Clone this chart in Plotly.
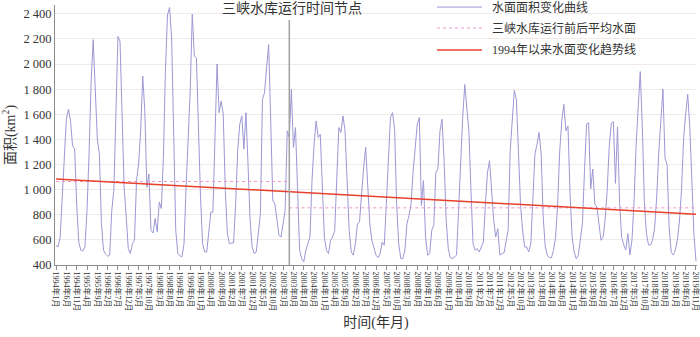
"""
Three Gorges area time series - monthly water surface area, 1994-2019
"""
import plotly.graph_objects as go

# monthly water surface area (km2), starting 1994-01
START_YEAR, START_MONTH = 1994, 1
area = [
    557, 544, 623, 940, 1310, 1560, 1640, 1550, 1350, 1323, 887, 583,
    517, 512, 544, 834, 1283, 1864, 2194, 1785, 1402, 1283, 729, 517,
    486, 470, 478, 834, 993, 1600, 2220, 2181, 1574, 1019, 782, 531,
    491, 570, 597, 1072, 1204, 1468, 1904, 1626, 1019, 1125, 676, 655,
    769, 665, 901, 850, 1250, 1950, 2392, 2450, 2207, 1415, 676, 491,
    473, 465, 570, 1019, 1415, 1785, 2397, 2062, 2049, 1415, 940, 570,
    504, 504, 676, 821, 821, 1362, 2001, 1613, 1705, 1600, 993, 649,
    570, 575, 575, 887, 1309, 1521, 1587, 1323, 1613, 1204, 755, 544,
    491, 504, 676, 808, 1719, 1771, 1969, 2154, 1547, 914, 887, 755,
    636, 623, 729, 834, 1468, 1415, 1798, 1336, 1494, 993, 517, 451,
    425, 517, 570, 623, 1072, 1362, 1547, 1415, 1441, 993, 623, 517,
    491, 597, 623, 676, 1151, 1494, 1455, 1587, 1468, 1019, 676, 504,
    478, 570, 729, 742, 993, 1177, 1336, 993, 729, 597, 531, 478,
    459, 491, 583, 557, 887, 1283, 1574, 1613, 1481, 887, 570, 451,
    451, 517, 729, 795, 887, 1151, 1309, 1521, 1574, 874, 1072, 623,
    478, 491, 676, 715, 1138, 1164, 1468, 1560, 1230, 755, 531, 459,
    451, 465, 478, 834, 1283, 1574, 1837, 1626, 1468, 993, 570, 517,
    531, 504, 544, 583, 887, 1138, 1230, 1000, 760, 623, 689, 478,
    491, 496, 597, 676, 1309, 1600, 1790, 1719, 1283, 887, 676, 544,
    544, 504, 570, 940, 1283, 1362, 1455, 1283, 782, 544, 478, 459,
    459, 517, 623, 887, 1309, 1547, 1679, 1468, 1507, 966, 623, 504,
    451, 478, 623, 729, 1151, 1521, 1534, 1006, 1164, 887, 861, 729,
    597, 623, 760, 1000, 1350, 1530, 1540, 1050, 1500, 900, 620, 560,
    520, 650, 480, 600, 900, 1350, 1650, 1940, 1500, 900, 650, 560,
    560, 600, 700, 950, 1300, 1600, 1800, 1250, 1200, 700, 500, 480,
    520, 600, 750, 1000, 1400, 1600, 1760, 1500, 1000, 650, 430,
]

# mean water surface before / after the dam started operating
dam_month = '2003年6月'
mean_before = 1065
mean_after = 855
dam_line_top = 2350

# linear trend since 1994 (start / end values)
trend_ends = [1085, 805]

y_ticks = [400, 600, 800, 1000, 1200, 1400, 1600, 1800, 2000, 2200, 2400]
TICK_STEP = 5

FONT = 'Liberation Serif, Noto Sans CJK SC, serif'
COLORS = {
    'area': '#9c98d4',
    'mean': '#ec96cf',
    'trend': '#e8402a',
    'dam': '#a0a0a0',
    'axis': '#8c8c8c',
    'grid': 'rgba(232,214,214,0.55)',
    'text': '#333333',
}

months = []
yr, mo = START_YEAR, START_MONTH
for _ in area:
    months.append(f'{yr}年{mo}月')
    mo += 1
    if mo > 12:
        yr, mo = yr + 1, 1
dam_idx = months.index(dam_month)

fig = go.Figure()

fig.add_trace(go.Scatter(
    x=months, y=area, mode='lines', name='水面面积变化曲线',
    line=dict(color=COLORS['area'], width=1)
))

fig.add_trace(go.Scatter(
    x=months[:dam_idx + 1], y=[mean_before] * (dam_idx + 1),
    mode='lines', name='三峡水库运行前后平均水面',
    line=dict(color=COLORS['mean'], width=1, dash='dot')
))
fig.add_trace(go.Scatter(
    x=months[dam_idx:], y=[mean_after] * (len(months) - dam_idx),
    mode='lines', name='三峡水库运行前后平均水面',
    line=dict(color=COLORS['mean'], width=1, dash='dot')
))

fig.add_trace(go.Scatter(
    x=[months[0], months[-1]], y=trend_ends, mode='lines',
    name='1994年以来水面变化趋势线',
    line=dict(color=COLORS['trend'], width=1.5)
))

# operation time node (vertical marker)
fig.add_trace(go.Scatter(
    x=[dam_month, dam_month], y=[y_ticks[0], dam_line_top],
    mode='lines', line=dict(color=COLORS['dam'], width=1.5),
    hoverinfo='skip'
))

fig.add_annotation(
    x=dam_month, xref='x', y=0.988, yref='paper', yanchor='middle',
    xshift=3, text='三峡水库运行时间节点', showarrow=False,
    font=dict(size=14, color=COLORS['text'], family=FONT)
)

# legend drawn by hand so it can sit above the plot top like the original
legend_items = [
    ('水面面积变化曲线', COLORS['area'], 'solid', 1),
    ('三峡水库运行前后平均水面', COLORS['mean'], 'dot', 1),
    ('1994年以来水面变化趋势线', COLORS['trend'], 'solid', 1.5),
]
legend_rows_y = [0.992, 0.9115, 0.827]
for (label, color, dash, width), ly in zip(legend_items, legend_rows_y):
    fig.add_shape(type='line', xref='paper', yref='paper',
                  x0=0.595, x1=0.665, y0=ly, y1=ly,
                  line=dict(color=color, width=width, dash=dash))
    fig.add_annotation(x=0.677, y=ly, xref='paper', yref='paper',
                       xanchor='left', yanchor='middle', text=label,
                       showarrow=False, font=dict(size=12, color=COLORS['text']))

fig.update_layout(
    width=700, height=337,
    plot_bgcolor='white', paper_bgcolor='white',
    font=dict(family=FONT, color=COLORS['text'], size=12),
    separators='. ',
    margin=dict(l=55, r=3, t=5, b=72),
    xaxis=dict(
        type='category',
        categoryorder='array', categoryarray=months,
        range=[-0.5, len(months) - 0.5],
        tickmode='array', tickvals=months[::TICK_STEP], ticktext=months[::TICK_STEP],
        tickangle=90, tickfont=dict(size=8),
        ticks='outside', ticklen=4, tickcolor=COLORS['axis'],
        showline=True, linecolor=COLORS['axis'], showgrid=False,
        automargin=False,
        title=dict(text='时间(年月)', font=dict(size=14), standoff=6),
    ),
    yaxis=dict(
        range=[y_ticks[0], 2470],
        tickmode='array', tickvals=y_ticks, tickformat=',d',
        tickfont=dict(size=12.5),
        showline=True, linecolor=COLORS['axis'],
        gridcolor=COLORS['grid'], zeroline=False,
        automargin=False,
        title=dict(text='面积(km<sup>2</sup>)', font=dict(size=14), standoff=4),
    ),
    showlegend=False,
)

fig.write_html('out.html', config={'displayModeBar': False},
               post_script="document.body.style.margin='0';")
